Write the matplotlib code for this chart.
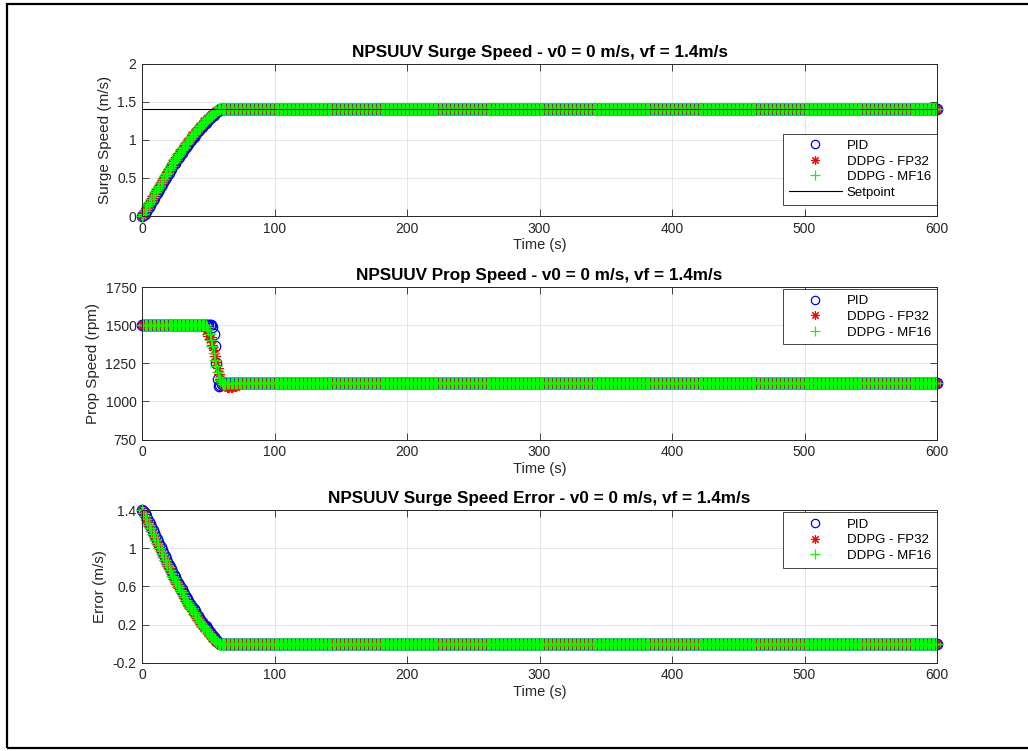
import numpy as np
import matplotlib
matplotlib.use("Agg")
import matplotlib.pyplot as plt
from matplotlib.patches import Rectangle

plt.rcParams["font.family"] = ["Liberation Sans", "DejaVu Sans"]

# time base, 1 s steps over the 600 s run
t = np.arange(0, 601)

# surge speed transients (m/s), t = 0..60 s; afterwards held at setpoint
SETPOINT = 1.4
speed_pid_tr = [0.00, 0.01, 0.03, 0.06, 0.09, 0.12, 0.15, 0.18, 0.21, 0.24,
                0.27, 0.30, 0.33, 0.36, 0.39, 0.42, 0.45, 0.48, 0.51, 0.54,
                0.57, 0.60, 0.62, 0.65, 0.68, 0.70, 0.73, 0.76, 0.78, 0.81,
                0.83, 0.86, 0.88, 0.91, 0.93, 0.95, 0.98, 1.00, 1.02, 1.04,
                1.06, 1.09, 1.11, 1.13, 1.15, 1.17, 1.19, 1.21, 1.22, 1.24,
                1.26, 1.28, 1.30, 1.31, 1.33, 1.35, 1.36, 1.38, 1.39, 1.40,
                1.40]
speed_fp32_tr = [0.00, 0.03, 0.06, 0.10, 0.13, 0.16, 0.19, 0.22, 0.25, 0.28,
                 0.31, 0.34, 0.37, 0.40, 0.43, 0.46, 0.49, 0.52, 0.55, 0.58,
                 0.61, 0.63, 0.66, 0.69, 0.72, 0.74, 0.77, 0.79, 0.82, 0.84,
                 0.87, 0.89, 0.92, 0.94, 0.97, 0.99, 1.01, 1.03, 1.06, 1.08,
                 1.10, 1.12, 1.14, 1.16, 1.18, 1.20, 1.22, 1.24, 1.26, 1.27,
                 1.29, 1.31, 1.32, 1.34, 1.35, 1.37, 1.38, 1.39, 1.40, 1.40,
                 1.40]
speed_mf16_tr = [0.00, 0.03, 0.06, 0.09, 0.13, 0.16, 0.19, 0.22, 0.25, 0.28,
                 0.31, 0.34, 0.37, 0.40, 0.43, 0.46, 0.49, 0.52, 0.55, 0.57,
                 0.60, 0.63, 0.66, 0.69, 0.71, 0.74, 0.76, 0.79, 0.81, 0.84,
                 0.86, 0.89, 0.91, 0.94, 0.96, 0.98, 1.01, 1.03, 1.05, 1.07,
                 1.09, 1.12, 1.14, 1.16, 1.18, 1.20, 1.22, 1.23, 1.25, 1.27,
                 1.29, 1.30, 1.32, 1.33, 1.35, 1.36, 1.38, 1.39, 1.40, 1.40,
                 1.40]

# prop speed transients (rpm), then steady value
PROP_STEADY = 1120
prop_pid_tr = [1500] * 53 + [1490, 1440, 1360, 1250, 1150, 1100, 1105, 1112, 1118]
prop_fp32_tr = [1500] * 47 + [1490, 1460, 1475, 1430, 1410, 1420, 1370, 1340,
                              1300, 1260, 1220, 1180, 1150, 1130, 1115, 1105,
                              1100, 1095, 1095, 1095, 1095, 1095, 1098, 1100,
                              1102, 1105, 1110, 1115, 1118]
prop_mf16_tr = [1500] * 49 + [1490, 1470, 1440, 1400, 1360, 1320, 1270, 1230,
                              1190, 1160, 1140, 1125, 1115, 1112, 1115, 1118]


def hold(tr, val):
    return np.array(tr + [val] * (len(t) - len(tr)), dtype=float)


speed_pid = hold(speed_pid_tr, SETPOINT)
speed_fp32 = hold(speed_fp32_tr, SETPOINT)
speed_mf16 = hold(speed_mf16_tr, SETPOINT)
prop_pid = hold(prop_pid_tr, PROP_STEADY)
prop_fp32 = hold(prop_fp32_tr, PROP_STEADY)
prop_mf16 = hold(prop_mf16_tr, PROP_STEADY)
# error = setpoint - speed
err_pid = SETPOINT - speed_pid
err_fp32 = SETPOINT - speed_fp32
err_mf16 = SETPOINT - speed_mf16

labels = ["PID", "DDPG - FP32", "DDPG - MF16"]
AX_C = "#262626"
BLUE, RED, GREEN = (0, 0, 1), (1, 0, 0), (0, 1, 0)

fig = plt.figure(figsize=(10.28, 7.51), dpi=100)
fig.patches.append(Rectangle((7 / 1028, 3 / 751), 1.1, 744 / 751, transform=fig.transFigure,
                             fill=False, ec="black", lw=1.6, clip_on=False))

L, W = 142 / 1028, 795 / 1028
H = 152.5 / 751
boxes = [(L, 1 - 216 / 751, W, H), (L, 1 - 439.5 / 751, W, H), (L, 1 - 662.7 / 751, W, H)]

panels = [
    ("NPSUUV Surge Speed - v0 = 0 m/s, vf = 1.4m/s", "Surge Speed (m/s)",
     (speed_pid, speed_fp32, speed_mf16), (0, 2), [0, 0.5, 1, 1.5, 2], ["0", "0.5", "1", "1.5", "2"]),
    ("NPSUUV Prop Speed - v0 = 0 m/s, vf = 1.4m/s", "Prop Speed (rpm)",
     (prop_pid, prop_fp32, prop_mf16), (750, 1750), [750, 1000, 1250, 1500, 1750],
     ["750", "1000", "1250", "1500", "1750"]),
    ("NPSUUV Surge Speed Error - v0 = 0 m/s, vf = 1.4m/s", "Error (m/s)",
     (err_pid, err_fp32, err_mf16), (-0.2, 1.4), [-0.2, 0.2, 0.6, 1.0, 1.4],
     ["-0.2", "0.2", "0.6", "1", "1.4"]),
]

for i, (title, ylab, (yp, yf, ym), ylim, yt, ytl) in enumerate(panels):
    ax = fig.add_axes(boxes[i])
    ax.plot(t, yp, ls="none", marker="o", ms=7.5, color=BLUE, mfc="none", mec=BLUE, mew=0.9,
            label=labels[0], clip_on=False)
    ax.plot(t, yf, ls="none", marker=(8, 2, 0), ms=7.5, color=RED, mec=RED, mew=0.8,
            label=labels[1], clip_on=False)
    ax.plot(t, ym, ls="none", marker="+", ms=8.5, color=GREEN, mec=GREEN, mew=0.9,
            label=labels[2], clip_on=False)
    if i == 0:
        ax.plot([0, 600], [SETPOINT, SETPOINT], color="black", lw=0.8, label="Setpoint")
    ax.set_xlim(0, 600)
    ax.set_ylim(*ylim)
    ax.set_xticks(range(0, 601, 100))
    ax.set_yticks(yt)
    ax.set_yticklabels(ytl)
    ax.grid(True, color="#e2e2e2", lw=0.6)
    ax.set_axisbelow(True)
    ax.tick_params(direction="in", top=True, right=True, length=5, width=0.6,
                   labelsize=10, colors=AX_C, pad=4)
    for s in ax.spines.values():
        s.set_color(AX_C)
        s.set_linewidth(0.7)
    ax.set_title(title, fontsize=12.3, fontweight="bold", pad=5)
    ax.set_xlabel("Time (s)", fontsize=10.5, color=AX_C, labelpad=2)
    ax.set_ylabel(ylab, fontsize=11, color=AX_C, labelpad=4)
    kw = dict(borderaxespad=0, fontsize=9.5, handlelength=4.0, handletextpad=0.4,
              labelspacing=0.25, borderpad=0.45, fancybox=False, framealpha=1,
              edgecolor=AX_C, markerscale=0.8)
    if i == 0:
        leg = ax.legend(loc="lower right", bbox_to_anchor=(1.0, 0.075), **kw)
    else:
        leg = ax.legend(loc="upper right", bbox_to_anchor=(1.0, 0.985), **kw)
    leg.get_frame().set_linewidth(0.6)

fig.savefig("out.png", dpi=100)
